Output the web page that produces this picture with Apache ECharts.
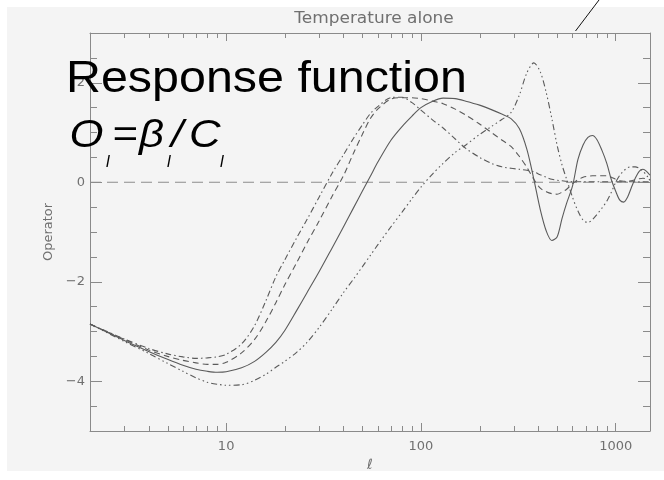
<!DOCTYPE html>
<html><head><meta charset="utf-8">
<script src="https://cdn.jsdelivr.net/npm/echarts@6/dist/echarts.min.js"></script>
<style>html,body{margin:0;padding:0;background:#fff}#c{width:664px;height:480px}</style>
</head><body><div id="c"></div>
<script>
// multipole l
const ell = [2,3,4,5,6,7,8,9,10,12,14,16,18,20,23,26,30,35,40,45,50,55,60,70,80,90,100,115,130,150,170,200,230,260,290,320,350,380,410,440,470,500,530,560,600,640,680,720,760,800,850,900,950,1000,1050,1100,1150,1200,1260,1320,1380,1440,1500];
// solid curve
const solidVals = [-2.85,-3.18,-3.40,-3.56,-3.68,-3.76,-3.80,-3.82,-3.81,
 -3.73,-3.60,-3.42,-3.22,-2.98,
 -2.58,-2.22,-1.80,-1.32,-0.90,-0.52,-0.18,0.12,0.40,
 0.84,1.12,1.33,1.50,
 1.63,1.69,1.68,1.63,1.55,
 1.46,1.37,1.28,1.08,0.66,0.06,
 -0.55,-0.98,-1.17,-1.10,-0.73,-0.42,
 -0.08,0.46,0.75,0.90,0.94,0.86,
 0.64,0.38,0.05,-0.18,-0.36,-0.40,
 -0.30,-0.12,0.08,0.22,0.26,0.22,0.14];
// dashed curve
const dashedVals = [-2.85,-3.16,-3.37,-3.50,-3.58,-3.63,-3.66,-3.66,-3.62,
 -3.43,-3.16,-2.80,-2.42,-2.06,
 -1.62,-1.22,-0.78,-0.28,0.13,0.58,0.96,1.28,1.47,
 1.67,1.70,1.70,1.68,
 1.63,1.58,1.47,1.35,1.17,
 1.00,0.85,0.72,0.52,0.30,0.06,
 -0.12,-0.19,-0.23,-0.24,-0.20,-0.14,
 -0.03,0.05,0.10,0.12,0.13,0.13,
 0.13,0.13,0.10,0.06,0.03,0.02,
 0.02,0.03,0.05,0.07,0.08,0.07,0.05];
// dash-dot curve
const dashDotVals = [-2.85,-3.15,-3.34,-3.45,-3.51,-3.54,-3.53,-3.51,-3.46,
 -3.25,-2.88,-2.38,-1.90,-1.56,
 -1.12,-0.75,-0.30,0.18,0.55,0.88,1.15,1.38,1.52,
 1.70,1.71,1.60,1.45,
 1.25,1.09,0.87,0.68,0.50,
 0.38,0.31,0.28,0.26,0.24,0.21,
 0.15,0.10,0.06,0.04,0.03,0.02,
 0.01,0.01,0.01,0.01,0.01,0.01,
 0.01,0.01,0.01,0.01,0.01,0.01,
 0.01,0.01,0.01,0.01,0.01,0.01,0.01];
// dash-triple-dot curve
const dashDot3Vals = [-2.85,-3.20,-3.44,-3.64,-3.80,-3.93,-4.02,-4.06,-4.08,
 -4.07,-3.98,-3.86,-3.72,-3.60,
 -3.42,-3.22,-2.92,-2.55,-2.22,-1.95,-1.70,-1.47,-1.26,
 -0.90,-0.60,-0.33,-0.10,
 0.17,0.38,0.60,0.75,0.96,
 1.12,1.26,1.40,1.75,2.20,2.40,
 2.22,1.80,1.28,0.75,0.35,0.06,
 -0.30,-0.58,-0.76,-0.81,-0.75,-0.65,
 -0.52,-0.38,-0.20,0.00,0.14,0.23,
 0.29,0.31,0.31,0.28,0.22,0.14,0.04];
const zeroLineEll = [2, 1500];
const zeroLineVals = [0, 0];
const xTickLabels = [10, 100, 1000];
const xMinorTicks = [3,4,5,6,7,8,9,20,30,40,50,60,70,80,90,200,300,400,500,600,700,800,900];
const yTickLabels = [-4, -2, 0, 2];
const X_MIN = 2, X_MAX = 1500, Y_MIN = -5, Y_MAX = 3;

const AX = '#8a8a8a';
const LBL = '#707070';
const CURVE = '#5a5a5a';

function pairs(xs, ys) { return xs.map((x, i) => [x, ys[i]]); }
function curve(name, vals, dash) {
  return {
    type: 'line', name: name, data: pairs(ell, vals),
    showSymbol: false, symbol: 'none', smooth: 0.3, silent: true,
    lineStyle: { color: CURVE, width: 1.1, type: dash }, z: 3
  };
}

const xBase = {
  type: 'log', logBase: 10, min: X_MIN, max: X_MAX,
  axisLine: { show: true, onZero: false, lineStyle: { color: AX, width: 1 } },
  axisTick: { show: true, inside: true, length: 8, lineStyle: { color: AX } },
  splitLine: { show: false }, minorTick: { show: false }, minorSplitLine: { show: false }
};
const yBase = {
  type: 'value', min: Y_MIN, max: Y_MAX, splitNumber: 4,
  axisLine: { show: true, onZero: false, lineStyle: { color: AX, width: 1 } },
  axisTick: { show: true, inside: true, length: 12, lineStyle: { color: AX } },
  minorTick: { show: true, splitNumber: 4, length: 7, lineStyle: { color: AX } },
  splitLine: { show: false }, minorSplitLine: { show: false }
};

const chart = echarts.init(document.getElementById('c'), null, { renderer: 'canvas' });
chart.setOption({
  animation: false,
  backgroundColor: '#ffffff',
  grid: { left: 90, right: 14, top: 33, bottom: 49, containLabel: false, outerBoundsMode: 'none' },
  xAxis: [
    Object.assign({}, xBase, {
      position: 'bottom',
      axisLabel: {
        color: LBL, fontSize: 13, fontFamily: 'DejaVu Sans', margin: 9,
        formatter: v => { const r = Math.round(v); return xTickLabels.includes(r) ? String(r) : ''; }
      },
      name: '\u2113', nameLocation: 'middle', nameGap: 24,
      nameTextStyle: { color: LBL, fontSize: 14, fontFamily: 'DejaVu Sans', fontStyle: 'italic' }
    }),
    Object.assign({}, xBase, { position: 'top', axisLabel: { show: false } })
  ],
  yAxis: [
    Object.assign({}, yBase, {
      position: 'left',
      axisLabel: {
        color: LBL, fontSize: 13, fontFamily: 'DejaVu Sans', margin: 5,
        showMinLabel: false, showMaxLabel: false,
        formatter: v => yTickLabels.includes(v) ? (v < 0 ? '\u2212' + (-v) : String(v)) : ''
      },
      name: 'Operator', nameLocation: 'middle', nameGap: 35,
      nameTextStyle: { color: LBL, fontSize: 13, fontFamily: 'DejaVu Sans' }
    }),
    Object.assign({}, yBase, { position: 'right', axisLabel: { show: false } })
  ],
  series: [
    {
      type: 'line', name: 'zero', data: pairs(zeroLineEll, zeroLineVals),
      showSymbol: false, symbol: 'none', silent: true,
      lineStyle: { color: '#8c8c8c', width: 1, type: [11, 6] }, z: 2
    },
    curve('solid', solidVals, 'solid'),
    curve('dashed', dashedVals, [6, 4]),
    curve('dashdot', dashDotVals, [6, 3, 1.5, 3]),
    curve('dashdot3', dashDot3Vals, [6, 3, 1.5, 3, 1.5, 3, 1.5, 3]),
    {
      type: 'custom', name: 'xMinorTicks', coordinateSystem: 'cartesian2d', silent: true, z: 4,
      data: xMinorTicks.map(v => [v, Y_MIN]), encode: { x: 0, y: 1 },
      renderItem: function (params, api) {
        const v = api.value(0);
        const b = api.coord([v, Y_MIN]);
        const t = api.coord([v, Y_MAX]);
        const x = Math.round(b[0]) + 0.5;
        return {
          type: 'group', children: [
            { type: 'line', shape: { x1: x, y1: b[1], x2: x, y2: b[1] - 5 }, style: { stroke: AX, lineWidth: 1 } },
            { type: 'line', shape: { x1: x, y1: t[1], x2: x, y2: t[1] + 5 }, style: { stroke: AX, lineWidth: 1 } }
          ]
        };
      }
    }
  ],
  graphic: [
    { type: 'rect', z: -100, silent: true, shape: { x: 7, y: 7, width: 657, height: 464 }, style: { fill: '#f4f4f4' } },
    { type: 'text', z: 100, x: 374, y: 19, scaleX: 1.06, silent: true,
      style: { text: 'Temperature alone', font: '16px "DejaVu Sans"', fill: LBL, align: 'center', verticalAlign: 'middle' } },
    { type: 'line', z: 100, silent: true, shape: { x1: 575.5, y1: 31, x2: 599, y2: 0 }, style: { stroke: '#111', lineWidth: 1 } },
    { type: 'text', z: 100, x: 66, y: 80, scaleX: 1.10, silent: true,
      style: { text: 'Response function', font: '44px "Liberation Sans"', fill: '#000', align: 'left', verticalAlign: 'middle' } },
    { type: 'text', z: 100, x: 69.5, y: 136.5, scaleX: 1.12, silent: true,
      style: { text: 'O', font: 'italic 39px "Liberation Sans"', fill: '#000', align: 'left', verticalAlign: 'middle' } },
    { type: 'text', z: 100, x: 112, y: 136.5, scaleX: 1.12, silent: true,
      style: { text: '=', font: 'italic 39px "Liberation Sans"', fill: '#000', align: 'left', verticalAlign: 'middle' } },
    { type: 'text', z: 100, x: 139, y: 136.5, scaleX: 1.12, silent: true,
      style: { text: '\u03b2', font: 'italic 39px "Liberation Sans"', fill: '#000', align: 'left', verticalAlign: 'middle' } },
    { type: 'text', z: 100, x: 171, y: 136.5, scaleX: 1.12, silent: true,
      style: { text: '/', font: 'italic 39px "Liberation Sans"', fill: '#000', align: 'left', verticalAlign: 'middle' } },
    { type: 'text', z: 100, x: 189, y: 136.5, scaleX: 1.12, silent: true,
      style: { text: 'C', font: 'italic 39px "Liberation Sans"', fill: '#000', align: 'left', verticalAlign: 'middle' } },
    { type: 'text', z: 100, x: 106, y: 162.5, silent: true,
      style: { text: 'l', font: 'italic 16px "Liberation Sans"', fill: '#000', align: 'left', verticalAlign: 'middle' } },
    { type: 'text', z: 100, x: 167, y: 162.5, silent: true,
      style: { text: 'l', font: 'italic 16px "Liberation Sans"', fill: '#000', align: 'left', verticalAlign: 'middle' } },
    { type: 'text', z: 100, x: 220, y: 162.5, silent: true,
      style: { text: 'l', font: 'italic 16px "Liberation Sans"', fill: '#000', align: 'left', verticalAlign: 'middle' } }
  ]
});
</script>
</body></html>
